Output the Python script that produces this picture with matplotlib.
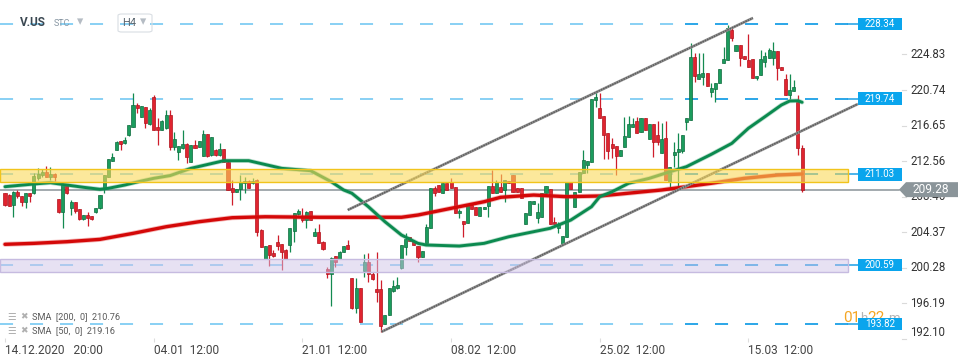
import numpy as np
import matplotlib
matplotlib.use('Agg')
import matplotlib.pyplot as plt
from matplotlib.patches import Rectangle, Polygon, FancyBboxPatch
from matplotlib.transforms import blended_transform_factory

plt.rcParams['font.family'] = ['Roboto', 'DejaVu Sans']
plt.rcParams['lines.scale_dashes'] = False

# V.US, H4 candles
opens = [208.86, 208.66, 207.51, 208.97, 208.55, 207.89, 208.86, 208.86, 210.58, 210.96,
         211.27, 210.77, 211.04, 208.20, 206.74, 209.81, 207.20, 207.82, 207.02, 205.90,
         206.36, 206.25, 206.67, 207.13, 209.43, 210.77, 212.61, 213.84, 214.87, 214.61,
         215.57, 216.52, 219.02, 217.67, 218.75, 216.83, 219.97, 216.45, 216.14, 216.34,
         217.87, 214.22, 213.64, 214.04, 214.53, 212.49, 214.41, 214.22, 213.18, 215.68,
         213.26, 213.84, 213.26, 213.92, 212.49, 209.43, 209.04, 209.32, 210.01, 210.31,
         210.01, 210.39, 204.63, 201.30, 202.91, 202.02, 203.22, 203.02, 202.33, 202.91,
         204.55, 206.44, 206.25, 205.78, 206.82, 203.94, 204.37, 203.29, 200.11, 199.54,
         201.64, 201.30, 202.14, 202.91, 199.11, 195.66, 197.96, 199.92, 200.95, 199.57,
         197.84, 197.84, 193.82, 194.85, 197.61, 197.96, 200.26, 202.68, 203.83, 203.37,
         202.79, 201.53, 203.14, 204.86, 209.47, 209.81, 208.89, 210.04, 210.16, 209.58,
         206.59, 205.67, 205.44, 207.51, 207.28, 206.25, 207.05, 207.40, 209.70, 208.89,
         209.58, 209.24, 210.27, 210.96, 209.47, 209.47, 205.32, 206.36, 207.63, 206.02,
         206.13, 208.89, 209.35, 205.55, 204.86, 203.02, 203.83, 210.16, 207.28, 209.01,
         211.19, 212.11, 212.46, 219.59, 218.67, 217.75, 215.80, 214.53, 214.30, 213.15,
         214.19, 215.34, 216.49, 217.18, 215.91, 217.52, 215.11, 216.83, 215.57, 213.49,
         215.22, 210.16, 213.26, 213.61, 213.72, 217.06, 217.29, 224.54, 222.01, 222.24,
         222.70, 220.51, 220.86, 221.55, 223.85, 224.20, 227.65, 225.23, 225.92, 224.66,
         224.20, 224.31, 222.12, 222.47, 223.97, 224.43, 224.43, 225.23, 223.39, 222.01,
         220.17, 220.63, 219.36, 214.07]
highs = [208.95, 208.75, 209.12, 209.24, 208.60, 208.93, 208.90, 211.16, 211.73, 211.62,
         212.00, 211.85, 211.23, 208.25, 209.85, 209.85, 208.09, 207.90, 207.10, 206.40,
         206.74, 206.30, 207.20, 208.70, 211.00, 212.80, 213.46, 214.85, 214.90, 215.37,
         216.75, 220.36, 219.21, 218.95, 218.80, 218.64, 220.17, 217.49, 217.25, 218.44,
         218.44, 215.95, 214.35, 216.14, 214.60, 214.45, 214.99, 214.90, 216.14, 215.72,
         215.35, 213.90, 214.61, 213.95, 212.55, 210.39, 209.40, 210.96, 210.77, 210.35,
         210.58, 210.45, 204.70, 202.85, 202.95, 202.33, 204.06, 203.05, 202.40, 204.88,
         206.60, 207.08, 207.13, 206.78, 206.85, 204.90, 205.32, 203.33, 200.41, 201.50,
         201.68, 202.18, 202.83, 203.48, 199.15, 199.11, 198.00, 201.87, 201.99, 199.80,
         202.10, 198.88, 194.90, 198.00, 198.88, 199.23, 202.95, 204.29, 203.88, 203.40,
         202.83, 202.26, 205.32, 209.50, 209.70, 209.85, 210.08, 210.08, 210.62, 209.62,
         207.05, 205.72, 207.55, 207.74, 207.32, 207.32, 207.32, 209.74, 211.54, 210.39,
         211.08, 210.43, 210.31, 211.00, 209.51, 209.51, 206.63, 208.01, 208.01, 207.74,
         208.93, 209.74, 209.39, 206.13, 205.55, 203.98, 210.20, 210.20, 209.05, 211.35,
         213.84, 212.61, 219.75, 220.51, 220.40, 217.79, 215.84, 215.22, 214.34, 213.88,
         217.64, 217.75, 217.52, 217.64, 217.56, 217.56, 216.87, 216.87, 217.18, 216.95,
         217.18, 211.92, 214.76, 215.80, 215.61, 217.56, 226.15, 225.00, 225.00, 225.00,
         222.74, 221.55, 221.59, 223.20, 225.69, 228.22, 227.88, 225.96, 225.96, 224.70,
         227.19, 224.35, 222.39, 225.35, 225.12, 225.58, 226.27, 225.27, 223.43, 222.58,
         222.58, 221.89, 220.17, 214.41]
lows = [207.45, 207.35, 206.16, 208.28, 207.40, 207.13, 207.89, 208.80, 210.39, 210.77,
        210.70, 210.39, 210.27, 206.60, 204.83, 208.80, 206.36, 206.56, 205.80, 205.78,
        205.13, 205.80, 206.60, 207.05, 208.86, 210.70, 212.55, 213.80, 213.84, 214.55,
        215.50, 216.45, 218.06, 217.60, 216.34, 216.72, 216.10, 214.41, 216.10, 216.30,
        213.84, 213.84, 212.69, 214.00, 212.31, 212.45, 214.05, 214.15, 213.10, 213.07,
        213.20, 213.20, 213.20, 212.45, 209.20, 207.51, 209.00, 208.09, 208.93, 209.45,
        209.95, 203.94, 202.65, 201.25, 200.49, 201.56, 202.33, 200.03, 201.25, 202.14,
        203.29, 206.40, 205.59, 204.83, 205.75, 203.90, 203.12, 202.36, 199.08, 195.89,
        200.41, 201.25, 202.10, 202.40, 195.60, 195.08, 194.00, 199.23, 198.65, 198.88,
        196.35, 192.90, 193.78, 194.80, 197.55, 197.84, 200.20, 201.76, 203.32, 202.86,
        200.95, 201.50, 203.10, 204.82, 208.55, 208.96, 208.85, 209.20, 209.42, 206.55,
        206.02, 203.83, 205.40, 207.00, 206.32, 206.20, 207.00, 206.13, 208.85, 208.85,
        208.96, 207.86, 210.00, 208.96, 208.96, 208.28, 205.28, 206.32, 207.59, 205.44,
        206.09, 208.85, 205.28, 205.28, 204.29, 202.98, 203.79, 209.31, 207.24, 208.97,
        211.15, 211.19, 212.42, 218.79, 217.48, 212.80, 212.80, 212.92, 210.96, 213.11,
        214.15, 215.30, 216.45, 215.76, 215.87, 216.10, 215.07, 213.03, 214.41, 213.45,
        210.35, 209.47, 211.88, 209.58, 213.49, 216.14, 217.25, 221.66, 221.97, 221.32,
        221.16, 219.94, 219.36, 221.51, 223.81, 224.16, 226.38, 225.19, 223.51, 224.27,
        223.35, 222.08, 221.89, 222.43, 223.39, 224.39, 223.62, 221.89, 223.01, 220.13,
        219.71, 220.59, 213.26, 209.01]
closes = [207.51, 207.40, 209.04, 208.55, 207.89, 208.86, 208.55, 210.85, 211.04, 211.27,
          210.77, 211.04, 210.77, 206.67, 209.81, 208.86, 207.82, 206.86, 205.87, 206.36,
          206.05, 205.87, 207.13, 208.66, 210.96, 212.77, 213.07, 214.79, 214.53, 214.99,
          216.72, 219.02, 218.71, 218.90, 216.91, 218.44, 216.14, 216.14, 217.21, 217.87,
          214.22, 215.11, 214.30, 214.53, 213.00, 214.41, 214.10, 214.87, 215.68, 213.18,
          215.30, 213.26, 213.92, 212.49, 209.24, 209.04, 209.35, 210.19, 210.31, 209.50,
          210.31, 204.44, 202.71, 202.79, 201.76, 201.64, 202.83, 202.14, 201.30, 204.83,
          206.56, 206.82, 205.78, 206.74, 205.78, 204.37, 203.17, 202.41, 199.54, 201.45,
          200.99, 202.14, 202.79, 202.45, 195.66, 197.96, 194.05, 200.95, 199.57, 198.99,
          197.50, 193.59, 194.85, 197.96, 198.19, 198.31, 202.91, 203.60, 203.37, 202.91,
          201.53, 202.22, 204.98, 209.47, 208.89, 209.01, 210.04, 209.24, 209.47, 206.59,
          206.82, 205.32, 207.51, 207.05, 206.36, 207.28, 207.28, 209.70, 208.89, 210.16,
          209.01, 210.39, 210.04, 209.01, 209.01, 208.32, 206.59, 207.97, 207.97, 206.71,
          208.89, 209.70, 205.32, 205.32, 205.32, 203.94, 210.16, 209.35, 209.01, 211.31,
          212.69, 212.57, 219.71, 219.94, 217.52, 215.57, 213.72, 214.07, 213.15, 213.84,
          215.45, 216.83, 216.83, 215.80, 217.52, 216.14, 216.83, 214.76, 214.76, 215.11,
          210.39, 211.88, 213.61, 213.95, 215.57, 217.52, 224.54, 222.35, 222.58, 222.70,
          221.20, 220.97, 221.55, 223.16, 224.31, 227.88, 226.73, 225.92, 224.43, 224.31,
          223.39, 222.12, 222.35, 224.31, 224.66, 225.35, 225.23, 223.28, 223.05, 220.17,
          220.74, 221.09, 214.07, 209.28]

# moving averages, read at selected candles
sma50_idx = [0, 7, 11, 15, 19, 23, 25, 29, 33, 36, 40, 45, 53, 59, 67, 74, 79, 82, 84, 88,
             92, 96, 100, 102, 110, 116, 122, 132, 137, 142, 144, 147, 151, 156, 161, 165,
             171, 176, 180, 184, 188, 190, 192, 193]
sma50_val = [209.62, 209.93, 210.08, 209.81, 209.55, 209.32, 209.43, 209.81, 210.27, 210.58,
             210.90, 211.73, 212.61, 212.61, 211.73, 211.46, 210.19, 209.24, 208.86, 207.31,
             205.59, 204.06, 203.10, 202.91, 202.79, 203.10, 203.86, 204.83, 205.78, 207.31,
             208.47, 209.04, 210.01, 210.58, 211.34, 211.92, 213.34, 214.61, 216.34, 217.67,
             219.02, 219.48, 219.51, 219.33]
sma200_idx = [0, 7, 15, 23, 31, 39, 47, 55, 63, 76, 96, 100, 108, 116, 120, 128, 136, 144,
              159, 171, 179, 187, 193]
sma200_val = [202.99, 203.10, 203.29, 203.56, 204.25, 205.01, 205.59, 206.05, 206.16, 206.10,
              206.10, 206.36, 207.13, 207.89, 208.40, 208.66, 208.47, 208.55, 209.24, 210.01,
              210.58, 210.96, 211.08]

# trend channel (candle index, price)
channel_upper = [(83.0, 206.94), (181.1, 229.03)]
channel_lower = [(91.2, 192.93), (206.5, 219.13)]

levels = [228.34, 219.74, 211.03, 200.59, 193.82]
yellow_zone = (210.19, 211.62)
purple_zone = (199.84, 201.30)
last_price = 209.28
axis_ticks = [224.83, 220.74, 216.65, 212.56, 208.46, 204.37, 200.28, 196.19, 192.10]
date_idx = [0, 36, 72, 108, 144, 180]
date_labels = ['14.12.2020   20:00', '04.01  12:00', '21.01  12:00',
               '08.02  12:00', '25.02  12:00', '15.03  12:00']
legend_rows = ['SMA  [200,  0]  210.76', 'SMA  [50,  0]  219.16']

W, H = 970, 364
def fx(px):
    return px / W
def fy(py):
    return 1 - py / H

fig = plt.figure(figsize=(9.7, 3.64), dpi=100)
fig.patch.set_facecolor('white')
ax = fig.add_axes([0, 26 / H, 1, 338 / H])
ax.set_xlim(-1.21, 233.66)
ax.set_ylim(192.21, 231.10)
for s in ax.spines.values():
    s.set_visible(False)
ax.set_yticks([])
ax.set_xticks(date_idx)
ax.set_xticklabels(date_labels, ha='left', fontsize=8.6, color='#444444')
ax.tick_params(axis='x', length=3, color='#dddddd', pad=1.5)
tr = blended_transform_factory(ax.transAxes, ax.transData)

o = np.array(opens); h = np.array(highs); l = np.array(lows); c = np.array(closes)
idx = np.arange(len(c))
up = c >= o

# candles
ax.vlines(idx[up], l[up], h[up], color='#138a50', lw=0.9, zorder=2)
ax.vlines(idx[~up], l[~up], h[~up], color='#cf1d2b', lw=0.9, zorder=2)
body = np.maximum(np.abs(c - o), 0.1)
ax.bar(idx[up], body[up], bottom=np.minimum(o, c)[up], width=0.74,
       color='#1b9c5d', edgecolor='#0e6b3d', lw=0.5, zorder=3)
ax.bar(idx[~up], body[~up], bottom=np.minimum(o, c)[~up], width=0.74,
       color='#e0242f', edgecolor='#b0121c', lw=0.5, zorder=3)

# moving averages
ax.plot(sma200_idx, sma200_val, color='#e23a3a', lw=3.6, alpha=0.35, zorder=4,
        solid_capstyle='round')
ax.plot(sma200_idx, sma200_val, color='#d40808', lw=2.4, zorder=4, solid_capstyle='round')
ax.plot(sma50_idx, sma50_val, color='#3aa070', lw=3.2, alpha=0.35, zorder=4,
        solid_capstyle='round')
ax.plot(sma50_idx, sma50_val, color='#0b8a4f', lw=2.1, zorder=4, solid_capstyle='round')

# channel
for line in (channel_upper, channel_lower):
    xs, ys = zip(*line)
    ax.plot(xs, ys, color='#9a9a9a', lw=2.0, zorder=5, solid_capstyle='butt')
    ax.plot(xs, ys, color='#5e5e5e', lw=1.2, zorder=5, dashes=(1.2, 0.6))

# horizontal levels
for lv in levels:
    ax.plot([0, fx(685)], [lv, lv], transform=tr, color='#7fcdf3', lw=1.3,
            dashes=(9.4, 12.2), zorder=1)
    ax.plot([fx(685), fx(848)], [lv, lv], transform=tr, color='#1a9fe6', lw=1.3,
            dashes=(9.4, 12.2), zorder=1)
    ax.plot([fx(848), fx(858)], [lv, lv], transform=tr, color='#1a9fe6', lw=1.1,
            clip_on=False, zorder=1)
    ax.add_patch(Rectangle((fx(858), lv - 0.72), fx(44), 1.44, transform=tr,
                           facecolor='#0aa5ed', edgecolor='none', zorder=8, clip_on=False))
    ax.text(fx(880), lv, f'{lv:.2f}', transform=tr, ha='center', va='center',
            fontsize=7, color='white', zorder=9, clip_on=False)

# zones
ax.add_patch(Rectangle((0, yellow_zone[0]), fx(848), yellow_zone[1] - yellow_zone[0],
                       transform=tr, facecolor=(250/255, 217/255, 88/255, 0.6),
                       edgecolor='#f1c41c', lw=1.0, zorder=6))
ax.add_patch(Rectangle((0, purple_zone[0]), fx(848), purple_zone[1] - purple_zone[0],
                       transform=tr, facecolor=(209/255, 197/255, 233/255, 0.5),
                       edgecolor='#c6bbe0', lw=1.0, zorder=6))

# last price
ax.plot([0, fx(899)], [last_price, last_price], transform=tr, color='#8a9399',
        lw=1.1, zorder=1.5, clip_on=False)

# right price scale
for v in axis_ticks:
    va = 'bottom' if v == axis_ticks[-1] else 'center'
    ax.text(fx(910), v, f'{v:.2f}', transform=tr, ha='left', va=va, fontsize=8.3,
            color='#333333', clip_on=False, zorder=7)
    ax.plot([fx(902), fx(906)], [v, v], transform=tr, color='#dadada', lw=0.8,
            clip_on=False)

ax.add_patch(Polygon([(fx(899), last_price), (fx(906), last_price + 0.86),
                      (fx(958), last_price + 0.86), (fx(958), last_price - 0.86),
                      (fx(906), last_price - 0.86)], closed=True, transform=tr,
                     facecolor='#8b959a', edgecolor='none', zorder=8, clip_on=False))
ax.text(fx(931), last_price, f'{last_price:.2f}', transform=tr, ha='center', va='center',
        fontsize=8.6, color='white', zorder=9, clip_on=False)

# candle timer, partly hidden by the level box
ax.text(fx(843), 194.5, '01', transform=tr, ha='left', va='center', fontsize=11,
        color='#f5a623', zorder=7, clip_on=False)
ax.text(fx(860), 194.5, 'h', transform=tr, ha='left', va='center', fontsize=9.5,
        color='#b5b5b5', zorder=7, clip_on=False)
ax.text(fx(867), 194.5, '22', transform=tr, ha='left', va='center', fontsize=11,
        color='#f5a623', zorder=7, clip_on=False)
ax.text(fx(888), 194.5, 'm', transform=tr, ha='left', va='center', fontsize=9.5,
        color='#b5b5b5', zorder=7, clip_on=False)

# header
fig.text(fx(20), fy(23), 'V.US', fontsize=8.5, fontweight='bold', color='#3b4852',
         va='center')
fig.text(fx(54), fy(24), 'STC', fontsize=6.5, color='#8796a3', va='center')
fig.text(fx(77), fy(22), '▾', fontsize=9, color='#b5bcc4', va='center',
         family=['DejaVu Sans'])
fig.patches.append(FancyBboxPatch((fx(118), fy(32)), fx(34), 18 / H,
                                  boxstyle='round,pad=0,rounding_size=0.004',
                                  transform=fig.transFigure, facecolor='none',
                                  edgecolor='#d9dee3', lw=0.8))
fig.text(fx(122), fy(23), 'H4', fontsize=8, color='#5a6670', va='center')
fig.text(fx(140), fy(22), '▾', fontsize=9, color='#b5bcc4', va='center',
         family=['DejaVu Sans'])

# indicator legend
for i, row in enumerate(legend_rows):
    py = 317 + 14 * i
    fig.text(fx(7), fy(py), '☰', fontsize=7, color='#b0b0b0', va='center',
             family=['DejaVu Sans'])
    fig.text(fx(20), fy(py), '✖', fontsize=6.5, color='#b0b0b0', va='center',
             family=['DejaVu Sans'])
    fig.text(fx(32), fy(py), row, fontsize=6.6, color='#5a5a5a', va='center')

fig.savefig('out.png', dpi=100, facecolor='white')
